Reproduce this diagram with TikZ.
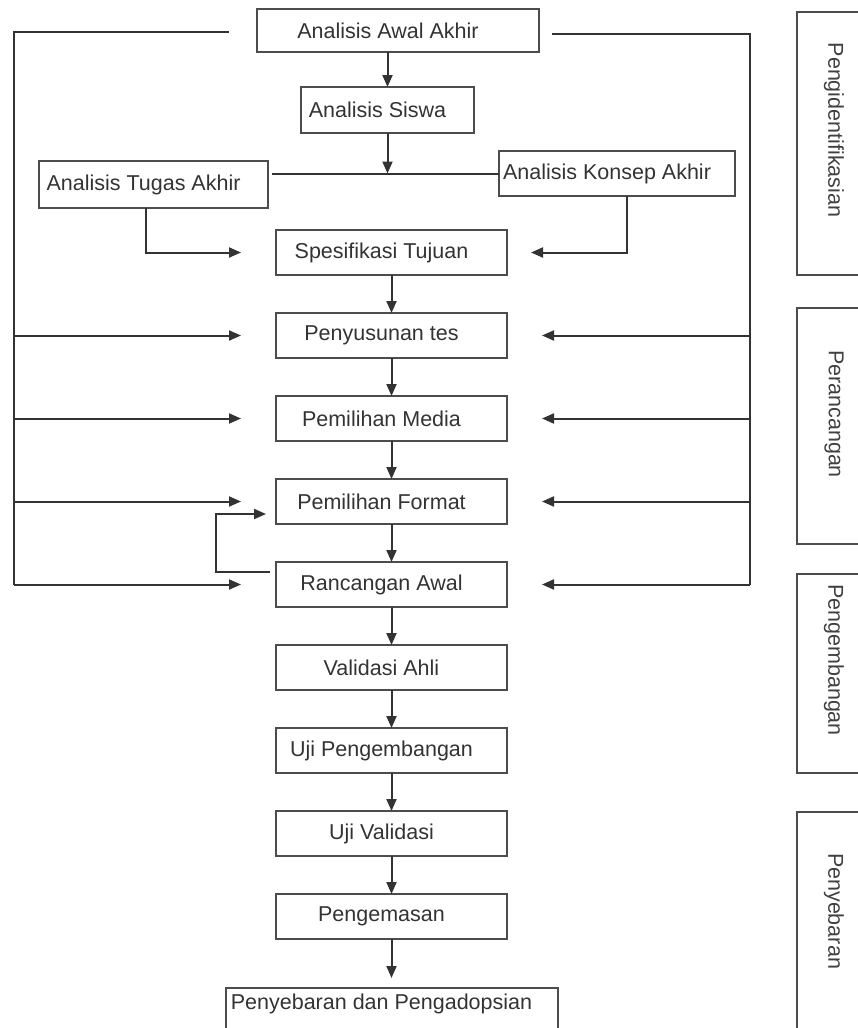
\documentclass[tikz,border=0pt]{standalone}
\usepackage{fontspec}
\setmainfont{Liberation Sans}
\usetikzlibrary{arrows.meta,positioning}

\tikzset{
  box/.style={draw=black!70, line width=2pt, minimum width=231pt, minimum height=45pt,
    inner sep=2pt, outer sep=0pt, text=black!80, font=\fontsize{21.5}{26}\selectfont,
    execute at end node={\hspace*{20pt}}},
  panel/.style={draw=black!70, line width=2pt, minimum width=80pt, anchor=north west},
  stage/.style={rotate=-90, text=black!75, font=\fontsize{21.5}{25}\selectfont},
  link/.style={draw=black!80, line width=2pt}
}

\begin{document}
\begin{tikzpicture}[x=1pt,y=-1pt,>={Triangle[length=12pt,width=10pt]},node distance=38pt]
    \useasboundingbox (0,0) rectangle (858,1028);

    % analysis
    \node[box, minimum width=282pt, minimum height=43pt] (awal) at (398,30.5) {Analisis Awal Akhir};
    \node[box, minimum width=173pt, minimum height=46pt] (siswa) at (387.5,110) {Analisis Siswa};
    \node[box, minimum width=229pt, minimum height=47pt] (tugas) at (153.5,184.5) {Analisis Tugas Akhir};
    \node[box, minimum width=236pt] (konsep) at (617,173.5) {Analisis Konsep Akhir};
    \node[box] (spes) at (391.5,252.5) {Spesifikasi Tujuan};

    % main column
    \node[box] (tes) [below=of spes] {Penyusunan tes};
    \node[box] (media) [below=of tes] {Pemilihan Media};
    \node[box] (format) [below=of media] {Pemilihan Format};
    \node[box] (rancangan) [below=of format] {Rancangan Awal};
    \node[box] (ahli) [below=of rancangan] {Validasi Ahli};
    \node[box] (ujip) [below=of ahli] {Uji Pengembangan};
    \node[box] (ujiv) [below=of ujip] {Uji Validasi};
    \node[box] (kemas) [below=of ujiv] {Pengemasan};
    \node[box, minimum width=332pt, text height=18pt, text depth=36pt, inner ysep=3pt] (adopsi)
        [below=49pt of kemas] {Penyebaran dan Pengadopsian};

    % stages on the right
    \node[panel, minimum height=263pt] (pIdent) at (796,11) {};
    \node[panel, minimum height=236pt] (pRancang) at (796,307) {};
    \node[panel, minimum height=199pt] (pKembang) at (796,573) {};
    \node[panel, minimum height=240pt] (pSebar) at (796,811) {};
    \node[stage] (tIdent) at (834,130) {Pengidentifikasian};
    \node[stage] (tRancang) at (834,414) {Perancangan};
    \node[stage] (tKembang) at (834,660) {Pengembangan};
    \node[stage] (tSebar) at (834,911) {Penyebaran};

    % top connectors
    \coordinate (join) at (siswa |- konsep);
    \draw[link,->] (awal.south -| siswa) -- (siswa);
    \draw[link,->] (siswa) -- (join);
    \draw[link] ([xshift=4pt]tugas.east |- konsep) -- (konsep);
    \draw[link,->] ([xshift=-8pt]tugas.south) |- ([xshift=-35pt]spes.west);
    \draw[link,->] ([xshift=10pt]konsep.south) |- ([xshift=24pt]spes.east);

    % column arrows
    \foreach \a/\b in {spes/tes, tes/media, media/format, format/rancangan, rancangan/ahli,
                       ahli/ujip, ujip/ujiv, ujiv/kemas}
        \draw[link,->] (\a) -- (\b);
    \draw[link,->] (kemas) -- ([yshift=10pt]adopsi.north);

    % side feeds
    \coordinate (lt) at (14,32);
    \coordinate (rt) at (750,34);
    \draw[link] ([xshift=-28pt]awal.west |- lt) -- (lt) -- (lt |- rancangan);
    \draw[link] ([xshift=13pt]awal.east |- rt) -- (rt) -- (rt |- rancangan);
    \foreach \s in {tes,media,format,rancangan} {
        \draw[link,->] (lt |- \s) -- ([xshift=-35pt]\s.west);
        \draw[link,->] (rt |- \s) -- ([xshift=35pt]\s.east);
    }

    % feedback
    \draw[link,->] ([shift={(-6,10)}]rancangan.north west) -| ([shift={(-60,-10)}]format.south west)
        -- ([shift={(-10,-10)}]format.south west);
\end{tikzpicture}
\end{document}
